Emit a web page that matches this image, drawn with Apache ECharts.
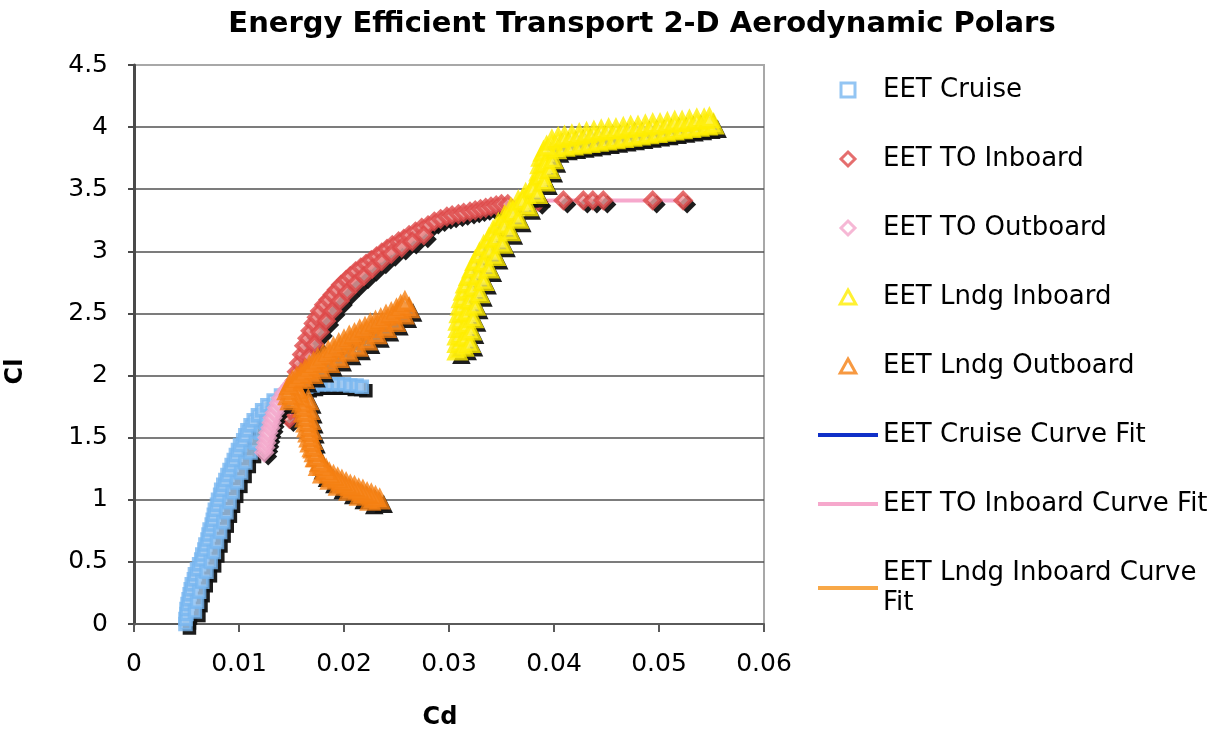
<!DOCTYPE html>
<html>
<head>
<meta charset="utf-8">
<script src="https://cdn.jsdelivr.net/npm/echarts@6/dist/echarts.min.js"></script>
<style>
html,body{margin:0;padding:0;background:#fff;}
#chart{width:1225px;height:730px;}
</style>
</head>
<body>
<div id="chart"></div>
<script>
const titleText = 'Energy Efficient Transport 2-D Aerodynamic Polars';
const xTicks = [0, 0.01, 0.02, 0.03, 0.04, 0.05, 0.06];
const yTicks = [0, 0.5, 1, 1.5, 2, 2.5, 3, 3.5, 4, 4.5];

// EET Cruise: [Cd, Cl]
const cruise = [
 [0.0049,0.00],[0.0049,0.04],[0.0050,0.08],[0.0050,0.12],[0.0051,0.16],[0.0052,0.20],[0.0053,0.24],[0.0054,0.28],[0.0055,0.32],[0.0057,0.36],
 [0.0058,0.40],[0.0060,0.44],[0.0062,0.48],[0.0064,0.52],[0.0065,0.56],[0.0067,0.60],[0.0068,0.64],[0.0070,0.68],[0.0071,0.72],[0.0072,0.76],
 [0.0074,0.80],[0.0075,0.84],[0.0076,0.88],[0.0077,0.92],[0.0079,0.96],[0.0080,1.00],[0.0082,1.04],[0.0083,1.08],[0.0085,1.12],[0.0087,1.16],
 [0.0089,1.20],[0.0091,1.24],[0.0093,1.28],[0.0095,1.32],[0.0097,1.36],[0.0099,1.40],[0.0101,1.44],[0.0104,1.48],[0.0106,1.52],[0.0108,1.56],
 [0.0111,1.60],[0.0114,1.64],[0.0118,1.68],[0.0122,1.72],[0.0127,1.76],[0.0133,1.80],[0.0140,1.84],[0.0148,1.87],[0.0156,1.89],[0.0164,1.91],
 [0.0170,1.92],[0.0176,1.93],[0.0182,1.93],[0.0188,1.93],[0.0194,1.93],[0.0200,1.93],[0.0206,1.92],[0.0212,1.92],[0.0217,1.91],
 [0.0058,0.10],[0.0060,0.18],[0.0062,0.26],[0.0065,0.34],[0.0069,0.42],[0.0073,0.50],[0.0076,0.58],[0.0079,0.66],[0.0082,0.74],[0.0085,0.82],
 [0.0088,0.90],[0.0091,0.98],[0.0094,1.06],[0.0098,1.14],[0.0102,1.22],[0.0106,1.30],[0.0111,1.38],[0.0116,1.46],[0.0121,1.54],[0.0126,1.62],[0.0132,1.70]
];

// EET TO Inboard
const toInboard = [
 [0.0148,1.65],[0.0149,1.72],[0.0150,1.80],[0.0151,1.88],[0.0153,1.96],[0.0155,2.03],[0.0157,2.10],[0.0160,2.17],[0.0162,2.24],[0.0165,2.30],
 [0.0168,2.36],[0.0171,2.42],[0.0174,2.47],[0.0177,2.52],[0.0181,2.57],[0.0185,2.61],[0.0189,2.65],[0.0193,2.69],[0.0197,2.73],[0.0202,2.77],
 [0.0206,2.80],[0.0211,2.84],[0.0216,2.87],[0.0221,2.90],[0.0226,2.93],[0.0231,2.96],[0.0236,2.99],[0.0241,3.02],[0.0246,3.05],[0.0252,3.08],
 [0.0257,3.10],[0.0262,3.13],[0.0268,3.16],[0.0274,3.19],[0.0280,3.21],[0.0286,3.24],[0.0292,3.26],[0.0298,3.28],[0.0303,3.29],[0.0309,3.30],
 [0.0314,3.31],[0.0320,3.32],[0.0325,3.33],[0.0330,3.34],[0.0335,3.35],[0.0340,3.36],[0.0345,3.37],[0.0350,3.38],[0.0356,3.38],[0.0370,3.39],
 [0.0385,3.40],[0.0409,3.41],[0.0428,3.41],[0.0437,3.41],[0.0447,3.41],[0.0494,3.41],[0.0523,3.41],
 [0.0160,1.95],[0.0163,2.05],[0.0167,2.15],[0.0172,2.25],[0.0177,2.35],[0.0183,2.44],[0.0189,2.52],[0.0196,2.60],[0.0203,2.67],[0.0211,2.74],
 [0.0219,2.80],[0.0227,2.86],[0.0236,2.92],[0.0245,2.98],[0.0255,3.03],[0.0265,3.08],[0.0276,3.13]
];

// EET TO Outboard
const toOutboard = [
 [0.0124,1.38],[0.0125,1.42],[0.0126,1.46],[0.0127,1.50],[0.0128,1.54],[0.0130,1.58],[0.0131,1.62],[0.0132,1.66],[0.0134,1.70],[0.0136,1.74],
 [0.0138,1.78],[0.0140,1.82],[0.0143,1.86],[0.0146,1.89],[0.0149,1.92],[0.0151,1.94]
];

// EET Lndg Inboard
const lndgInboard = [
 [0.0308,2.20],[0.0308,2.26],[0.0308,2.32],[0.0309,2.38],[0.0309,2.44],[0.0310,2.50],[0.0311,2.56],[0.0312,2.62],[0.0314,2.68],[0.0316,2.74],
 [0.0319,2.80],[0.0322,2.86],[0.0325,2.92],[0.0329,2.98],[0.0333,3.04],[0.0338,3.10],[0.0342,3.16],[0.0347,3.22],[0.0353,3.28],[0.0359,3.34],
 [0.0366,3.40],[0.0373,3.46],[0.0380,3.52],[0.0384,3.58],[0.0386,3.64],[0.0387,3.70],[0.0388,3.76],[0.0390,3.80],
 [0.0314,2.23],[0.0315,2.31],[0.0316,2.41],[0.0317,2.51],[0.0320,2.61],[0.0323,2.71],[0.0328,2.81],[0.0333,2.91],[0.0339,3.01],[0.0345,3.11],
 [0.0353,3.21],[0.0361,3.31],[0.0370,3.41],[0.0380,3.51],[0.0388,3.61],[0.0392,3.71],
 [0.0320,2.26],[0.0321,2.36],[0.0323,2.46],[0.0325,2.56],[0.0329,2.66],[0.0333,2.76],[0.0338,2.86],[0.0344,2.96],[0.0351,3.06],[0.0358,3.16],
 [0.0366,3.26],[0.0375,3.36],[0.0384,3.46],[0.0391,3.56],[0.0396,3.66],[0.0399,3.74],
 [0.0402,3.82],[0.0410,3.84],[0.0418,3.85],[0.0426,3.86],[0.0434,3.87],[0.0442,3.88],[0.0450,3.89],[0.0458,3.90],[0.0466,3.91],[0.0474,3.92],
 [0.0482,3.93],[0.0490,3.94],[0.0498,3.95],[0.0506,3.96],[0.0514,3.97],[0.0522,3.98],[0.0530,3.99],[0.0538,4.00],[0.0546,4.01],[0.0552,4.02],
 [0.0393,3.84],[0.0398,3.89],[0.0404,3.91],[0.0410,3.92],[0.0417,3.93],[0.0424,3.94],[0.0431,3.95],[0.0438,3.96],[0.0445,3.97],[0.0452,3.98],
 [0.0459,3.98],[0.0466,3.99],[0.0473,4.00],[0.0480,4.00],[0.0487,4.01],[0.0494,4.02],[0.0501,4.02],[0.0508,4.03],[0.0515,4.04],[0.0522,4.04],
 [0.0529,4.05],[0.0536,4.06],[0.0543,4.06],[0.0548,4.07]
];

// EET Lndg Outboard
const lndgOutboard = [
 [0.0225,0.99],[0.0215,1.03],[0.0205,1.07],[0.0195,1.11],[0.0187,1.16],[0.0180,1.21],[0.0176,1.27],[0.0173,1.34],[0.0171,1.41],[0.0170,1.48],
 [0.0169,1.56],[0.0168,1.64],[0.0167,1.72],[0.0166,1.80],
 [0.0234,1.00],[0.0230,1.02],[0.0226,1.04],[0.0222,1.05],[0.0218,1.07],[0.0214,1.08],[0.0210,1.10],[0.0206,1.11],[0.0202,1.13],[0.0198,1.15],
 [0.0194,1.17],[0.0190,1.19],[0.0186,1.21],[0.0183,1.24],[0.0180,1.27],[0.0177,1.30],[0.0174,1.34],[0.0172,1.38],[0.0170,1.42],[0.0168,1.46],
 [0.0167,1.50],[0.0166,1.54],[0.0165,1.58],[0.0164,1.62],[0.0163,1.66],[0.0162,1.70],[0.0161,1.74],[0.0160,1.78],[0.0159,1.82],[0.0157,1.86],
 [0.0155,1.89],[0.0152,1.84],[0.0149,1.80],[0.0147,1.84],[0.0146,1.88],[0.0148,1.92],[0.0151,1.95],
 [0.0162,1.97],[0.0170,2.01],[0.0178,2.05],[0.0186,2.10],[0.0195,2.14],[0.0204,2.19],[0.0213,2.23],[0.0222,2.28],[0.0231,2.33],[0.0240,2.38],
 [0.0249,2.43],[0.0257,2.49],[0.0262,2.54],
 [0.0155,1.98],[0.0159,2.01],[0.0163,2.04],[0.0167,2.07],[0.0171,2.10],[0.0175,2.13],[0.0180,2.16],[0.0185,2.19],[0.0190,2.22],[0.0195,2.25],
 [0.0200,2.28],[0.0205,2.31],[0.0210,2.33],[0.0215,2.36],[0.0220,2.38],[0.0225,2.41],[0.0230,2.43],[0.0235,2.45],[0.0240,2.48],[0.0245,2.50],
 [0.0250,2.53],[0.0254,2.56],[0.0258,2.59]
];

const cruiseFit = [[0.0050,0.00],[0.0053,0.25],[0.0063,0.50],[0.0071,0.75],[0.0080,1.00],[0.0091,1.25],[0.0105,1.50],[0.0126,1.75],[0.0145,1.85],[0.0170,1.92],[0.0200,1.93],[0.0218,1.92]];
const toInboardFit = [[0.0150,1.75],[0.0157,2.10],[0.0170,2.40],[0.0185,2.61],[0.0200,2.75],[0.0220,2.90],[0.0250,3.06],[0.0280,3.21],[0.0310,3.30],[0.0340,3.36],[0.0370,3.39],[0.0400,3.41],[0.0450,3.41],[0.0500,3.41],[0.0525,3.41]];
const lndgInboardFit = [[0.0310,2.20],[0.0312,2.50],[0.0322,2.80],[0.0338,3.10],[0.0362,3.35],[0.0383,3.55],[0.0390,3.75],[0.0400,3.86],[0.0430,3.91],[0.0460,3.95],[0.0490,3.98],[0.0520,4.01],[0.0550,4.04]];

const seriesNames = ['EET Cruise','EET TO Inboard','EET TO Outboard','EET Lndg Inboard','EET Lndg Outboard','EET Cruise Curve Fit','EET TO Inboard Curve Fit','EET Lndg Inboard Curve Fit'];
const colors = ['#78B6F0','#DE4A4A','#F4A6CA','#FFEE00','#F57F12','#1030C8','#F6A8CC','#F8A848'];
const fills  = ['#A9D0F6','#EFA3A3','#F8CCE0','#FFF45A','#F9A150'];
const markerPaths = {
  square: 'path://M0,0h10v10h-10z',
  diamond: 'path://M5,0L10,5L5,10L0,5z',
  triangle: 'path://M5,0L10,9H0z',
  line: 'path://M0,0h60v4h-60z'
};

const FONT = 'DejaVu Sans';

// marker series preceded by its own drop-shadow layer (same data, drawn dark and offset)
function scatterPair(i, data, symbol, size, bw){
  return [
    {
      name: seriesNames[i] + ' shadow', type:'scatter', data, symbol, symbolSize:size + bw - 1,
      symbolOffset:[4,4], z:3, silent:true,
      itemStyle:{color:'#111', borderWidth:0, opacity:0.95},
      emphasis:{disabled:true}
    },
    {
      name: seriesNames[i], type:'scatter', data, symbol, symbolSize:size, z:3,
      itemStyle:{color:fills[i], borderColor:colors[i], borderWidth:bw},
      emphasis:{disabled:true}
    }
  ];
}
function fit(i, data){
  return {
    name: seriesNames[i], type:'line', data, symbol:'none', smooth:true, z:2,
    lineStyle:{color:colors[i], width:4}, itemStyle:{color:colors[i]},
    emphasis:{disabled:true}
  };
}
function legendMarker(i, icon){
  return {name:seriesNames[i], icon, itemStyle:{color:'#fff', borderColor:colors[i], borderWidth:3}};
}
function legendLine(i){
  return {name:seriesNames[i], icon:markerPaths.line, itemStyle:{color:colors[i], borderWidth:0}};
}

const chart = echarts.init(document.getElementById('chart'), null, {renderer:'canvas'});
chart.setOption({
  animation:false,
  title:{
    text:titleText, left:637, top:5, textAlign:'center',
    textStyle:{fontFamily:FONT, fontWeight:'bold', fontSize:29, color:'#000'}
  },
  grid:{left:134, right:461, top:65, bottom:106, outerBoundsMode:'none', containLabel:false,
        show:true, borderColor:'#a8a8a8', borderWidth:2, backgroundColor:'transparent'},
  legend:{
    orient:'vertical', left:818, top:75, padding:0, itemGap:39,
    itemWidth:60, itemHeight:14,
    textStyle:{fontFamily:FONT, fontSize:26, lineHeight:30, color:'#000'},
    formatter: function(n){ return n === seriesNames[7] ? 'EET Lndg Inboard Curve\nFit' : n; },
    data:[
      legendMarker(0, markerPaths.square),
      legendMarker(1, markerPaths.diamond),
      legendMarker(2, markerPaths.diamond),
      legendMarker(3, markerPaths.triangle),
      legendMarker(4, markerPaths.triangle),
      legendLine(5), legendLine(6), legendLine(7)
    ],
    selectedMode:false
  },
  xAxis:{
    type:'value', min:xTicks[0], max:xTicks[xTicks.length-1], interval:0.01,
    name:'Cd', nameLocation:'middle', nameGap:82,
    nameTextStyle:{fontFamily:FONT, fontWeight:'bold', fontSize:24, color:'#000', padding:[0,18,0,0]},
    axisLine:{show:true, lineStyle:{color:'#5a5a5a', width:2}},
    axisTick:{show:true, length:8, lineStyle:{color:'#5a5a5a', width:2}},
    axisLabel:{margin:28, fontFamily:FONT, fontSize:25, color:'#000',
      formatter:function(v){ return String(Math.round(v*100)/100); }},
    splitLine:{show:false}
  },
  yAxis:{
    type:'value', min:yTicks[0], max:yTicks[yTicks.length-1], interval:0.5,
    name:'Cl', nameLocation:'middle', nameGap:106,
    nameTextStyle:{fontFamily:FONT, fontWeight:'bold', fontSize:24, color:'#000', padding:[0,54,0,0]},
    axisLine:{show:true, lineStyle:{color:'#4a4a4a', width:3}},
    axisTick:{show:true, length:6, lineStyle:{color:'#4a4a4a', width:2}},
    axisLabel:{margin:26, fontFamily:FONT, fontSize:25, color:'#000'},
    splitLine:{show:true, showMinLine:false, showMaxLine:false, lineStyle:{color:'#505050', width:1.5}}
  },
  series:[
    fit(5, cruiseFit),
    fit(6, toInboardFit),
    fit(7, lndgInboardFit),
    ...scatterPair(0, cruise, 'rect', 11, 3.5),
    ...scatterPair(1, toInboard, 'diamond', 15, 4),
    ...scatterPair(2, toOutboard, 'diamond', 15, 4),
    ...scatterPair(3, lndgInboard, 'triangle', 15, 4.5),
    ...scatterPair(4, lndgOutboard, 'triangle', 15, 4.5)
  ]
});
</script>
</body>
</html>
